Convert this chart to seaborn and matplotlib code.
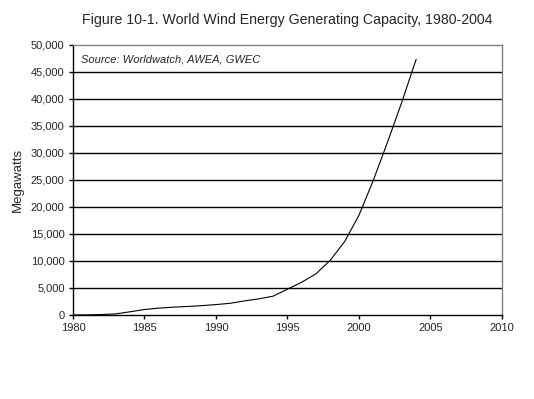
import matplotlib
matplotlib.use("Agg")
import matplotlib.pyplot as plt
import pandas as pd
import seaborn as sns
from matplotlib.ticker import FuncFormatter, MultipleLocator

# world wind capacity in megawatts, by year
years = [1980, 1981, 1982, 1983, 1984, 1985, 1986, 1987, 1988, 1989, 1990,
         1991, 1992, 1993, 1994, 1995, 1996, 1997, 1998, 1999, 2000,
         2001, 2002, 2003, 2004]
megawatts = [10, 25, 90, 210, 600, 1020, 1270, 1450, 1580, 1730, 1930,
             2170, 2610, 2990, 3490, 4780, 6070, 7640, 10150, 13600, 18450,
             24900, 32000, 39400, 47300]

title = "Figure 10-1. World Wind Energy Generating Capacity, 1980-2004"
source = "Source: Worldwatch, AWEA, GWEC"


def main():
    df = pd.DataFrame({"Year": years, "Megawatts": megawatts})

    sns.set_theme(style="white")
    plt.rcParams["font.family"] = ["Liberation Sans", "DejaVu Sans"]

    fig = plt.figure(figsize=(5.34, 3.99), dpi=100)
    ax = fig.add_axes([0.1367, 0.2105, 0.8033, 0.6775])

    sns.lineplot(data=df, x="Year", y="Megawatts", ax=ax,
                 color="black", linewidth=0.8)

    ax.set_xlim(1980, 2010)
    ax.set_ylim(0, 50000)
    ax.xaxis.set_major_locator(MultipleLocator(5))
    ax.yaxis.set_major_locator(MultipleLocator(5000))
    ax.yaxis.set_major_formatter(FuncFormatter(lambda v, p: f"{int(v):,}"))

    # horizontal grid lines, black like the original
    for v in range(5000, 50000, 5000):
        ax.axhline(v, color="black", linewidth=1.0, zorder=0)

    ax.spines["left"].set_color("black")
    ax.spines["bottom"].set_color("black")
    ax.spines["top"].set_color("#808080")
    ax.spines["right"].set_color("#808080")
    for s in ax.spines.values():
        s.set_linewidth(1.0)

    ax.tick_params(axis="both", which="major", direction="out", length=3,
                   width=1.0, color="black", labelsize=8, pad=3,
                   bottom=True, left=True)

    ax.set_xlabel("")
    ax.set_ylabel("Megawatts", fontsize=9.5, labelpad=5)
    ax.set_title(title, fontsize=10.2, pad=15)

    ax.text(0.019, 0.947, source, transform=ax.transAxes, fontsize=8,
            style="italic", va="center", ha="left")

    fig.savefig("out.png", dpi=100)


if __name__ == "__main__":
    main()
